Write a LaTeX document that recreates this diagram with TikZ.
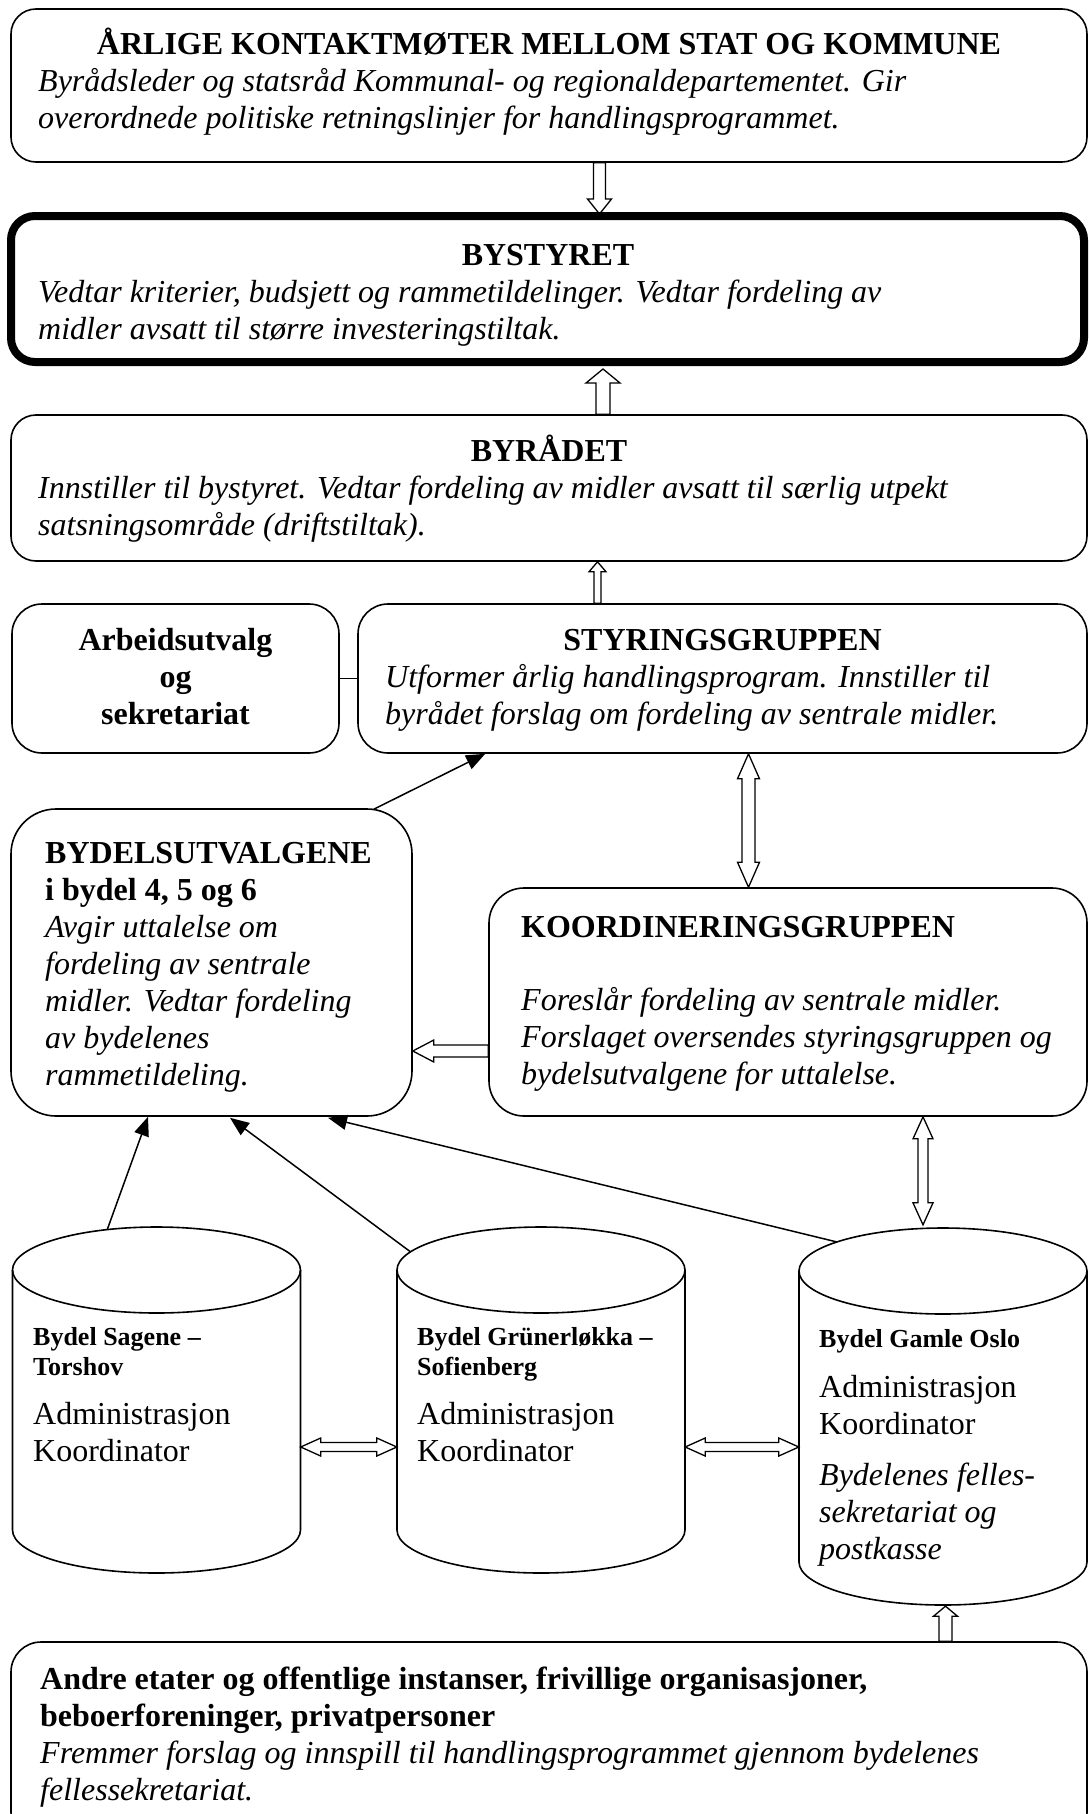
\documentclass[tikz,border=0pt]{standalone}
\usepackage{fontspec}
\setmainfont{Liberation Serif}
\usetikzlibrary{arrows.meta,calc,backgrounds}
\newcommand\fsz{\fontsize{32}{37}\selectfont}
\newcommand\fsm{\fontsize{26}{30}\selectfont}
\tikzset{
 box/.style={draw, line width=1.6pt, rounded corners=25pt, inner sep=0pt},
 txt/.style={inner sep=0pt, anchor=base west, font=\fsz},
 ctxt/.style={inner sep=0pt, anchor=base, font=\fsz},
 hollow/.style={draw, line width=1.3pt, fill=white, line join=miter},
 conn/.style={line width=1.5pt, -{Triangle[length=19pt,width=15pt]}},
 plain/.style={line width=1.5pt},
 cylline/.style={line width=1.6pt},
}
% single hollow block arrow: start, tip, half shaft, half head, head length
\newcommand\harrow[5]{%
 \coordinate (hA) at (#1); \coordinate (hB) at (#2);
 \coordinate (hN) at ($(hB)!#5!(hA)$);
 \draw[hollow] ($(hA)!#3!90:(hB)$) -- ($(hN)!#3!-90:(hA)$) -- ($(hN)!#4!-90:(hA)$) -- (hB)
   -- ($(hN)!#4!90:(hA)$) -- ($(hN)!#3!90:(hA)$) -- ($(hA)!#3!-90:(hB)$) -- cycle;}
% double hollow block arrow
\newcommand\hharrow[5]{%
 \coordinate (hA) at (#1); \coordinate (hB) at (#2);
 \coordinate (hN1) at ($(hA)!#5!(hB)$);
 \coordinate (hN2) at ($(hB)!#5!(hA)$);
 \draw[hollow] (hA) -- ($(hN1)!#4!90:(hB)$) -- ($(hN1)!#3!90:(hB)$) -- ($(hN2)!#3!-90:(hA)$)
   -- ($(hN2)!#4!-90:(hA)$) -- (hB) -- ($(hN2)!#4!90:(hA)$) -- ($(hN2)!#3!90:(hA)$)
   -- ($(hN1)!#3!-90:(hB)$) -- ($(hN1)!#4!-90:(hB)$) -- cycle;}
% cylinder: name, cx, top ellipse centre y, bottom ellipse centre y
\newcommand\cyl[4]{%
 \draw[cylline] (#2-144,#3) -- (#2-144,#4) arc[start angle=180,end angle=360,x radius=144pt,y radius=43pt] -- (#2+144,#3);
 \draw[cylline] (#2,#3) ellipse[x radius=144pt,y radius=43pt];
 \coordinate (#1top) at (#2,#3);
 \node[inner sep=0pt, minimum width=288pt, minimum height=#4-#3+86pt] (#1) at (#2,{(#3+#4)/2}) {};}
\begin{document}
\begin{tikzpicture}[x=1pt,y=-1pt]
\useasboundingbox (0,0) rectangle (1088,1814);

% boxes
\node[box, minimum width=1076pt, minimum height=153pt] (box1) at (549,85.5) {};
\node[box, line width=8pt, rounded corners=24pt, minimum width=1073pt, minimum height=146pt] (bystyret) at (547.5,289) {};
\node[box, minimum width=1076pt, minimum height=146pt] (byradet) at (549,488) {};
\node[box, minimum width=729pt, minimum height=149pt, rounded corners=30pt] (styring) at (722.5,678.5) {};
\node[box, minimum width=327pt, minimum height=149pt, rounded corners=30pt] (arbeid) at (175.5,678.5) {};
\node[box, minimum width=401pt, minimum height=307pt, rounded corners=45pt] (bydels) at (211.5,962.5) {};
\node[box, minimum width=598pt, minimum height=228pt, rounded corners=35pt] (koord) at (788,1002) {};
\node[box, minimum width=1076pt, minimum height=200pt, rounded corners=30pt] (bottom) at (549,1742) {};

% cylinders
\cyl{cyl1}{156.5}{1270}{1530}
\cyl{cyl2}{541}{1270}{1530}
\cyl{cyl3}{943}{1271}{1562}

% texts
\node[ctxt] (t1a) at (549,55) {\bfseries ÅRLIGE KONTAKTMØTER MELLOM STAT OG KOMMUNE};
\node[txt, font=\fsz\itshape] (t1b) at (38,92) {\begin{tabular}[t]{@{}l@{}}Byrådsleder og statsråd Kommunal- og regionaldepartementet. Gir\\overordnede politiske retningslinjer for handlingsprogrammet.\end{tabular}};

\node[ctxt] (t2a) at (548,265) {\bfseries BYSTYRET};
\node[txt, font=\fsz\itshape] (t2b) at (38,302) {\begin{tabular}[t]{@{}l@{}}Vedtar kriterier, budsjett og rammetildelinger. Vedtar fordeling av\\midler avsatt til større investeringstiltak.\end{tabular}};

\node[ctxt] (t3a) at (549,461) {\bfseries BYRÅDET};
\node[txt, font=\fsz\itshape] (t3b) at (38,498) {\begin{tabular}[t]{@{}l@{}}Innstiller til bystyret. Vedtar fordeling av midler avsatt til særlig utpekt\\satsningsområde (driftstiltak).\end{tabular}};

\node[ctxt] (t4a) at (722.5,650) {\bfseries STYRINGSGRUPPEN};
\node[txt, font=\fsz\itshape] (t4b) at (385,687) {\begin{tabular}[t]{@{}l@{}}Utformer årlig handlingsprogram. Innstiller til\\byrådet forslag om fordeling av sentrale midler.\end{tabular}};

\node[ctxt, font=\fsz\bfseries] (t5) at (175.5,650) {\begin{tabular}[t]{@{}c@{}}Arbeidsutvalg\\og\\sekretariat\end{tabular}};

\node[txt] (t6) at (45,863) {\begin{tabular}[t]{@{}l@{}}\bfseries BYDELSUTVALGENE\\\bfseries i bydel 4, 5 og 6\\\itshape Avgir uttalelse om\\\itshape fordeling av sentrale\\\itshape midler. Vedtar fordeling\\\itshape av bydelenes\\\itshape rammetildeling.\end{tabular}};

\node[txt, font=\fsz\bfseries] (t7a) at (521,937) {KOORDINERINGSGRUPPEN};
\node[txt, font=\fsz\itshape] (t7b) at (521,1010) {\begin{tabular}[t]{@{}l@{}}Foreslår fordeling av sentrale midler.\\Forslaget oversendes styringsgruppen og\\bydelsutvalgene for uttalelse.\end{tabular}};

\node[txt, font=\fsm\bfseries] (c1a) at (33,1345) {\begin{tabular}[t]{@{}l@{}}Bydel Sagene –\\Torshov\end{tabular}};
\node[txt] (c1b) at (33,1424) {\begin{tabular}[t]{@{}l@{}}Administrasjon\\Koordinator\end{tabular}};
\node[txt, font=\fsm\bfseries] (c2a) at (417,1345) {\begin{tabular}[t]{@{}l@{}}Bydel Grünerløkka –\\Sofienberg\end{tabular}};
\node[txt] (c2b) at (417,1424) {\begin{tabular}[t]{@{}l@{}}Administrasjon\\Koordinator\end{tabular}};
\node[txt, font=\fsm\bfseries] (c3a) at (819,1347) {Bydel Gamle Oslo};
\node[txt] (c3b) at (819,1397) {\begin{tabular}[t]{@{}l@{}}Administrasjon\\Koordinator\end{tabular}};
\node[txt, font=\fsz\itshape] (c3c) at (819,1485) {\begin{tabular}[t]{@{}l@{}}Bydelenes felles-\\sekretariat og\\postkasse\end{tabular}};

\node[txt] (t8) at (40,1689) {\begin{tabular}[t]{@{}l@{}}\bfseries Andre etater og offentlige instanser, frivillige organisasjoner,\\\bfseries beboerforeninger, privatpersoner\\\itshape Fremmer forslag og innspill til handlingsprogrammet gjennom bydelenes\\\itshape fellessekretariat.\end{tabular}};

% plain connectors
\draw[plain] (arbeid.east) -- (styring.west);
\draw[conn] ($(bydels.north east)+(-39,1)$) -- ($(styring.south west)+(128,0)$);
\draw[conn] ($(cyl1top)+(110:144pt and 43pt)$) -- ($(bydels.south)+(-63.5,0)$);
\draw[conn] ($(cyl2top)+(155:144pt and 43pt)$) -- ($(bydels.south)+(18.5,1)$);
\draw[conn] ($(cyl3top)+(137.5:144pt and 43pt)$) -- ($(bydels.south)+(116.5,1)$);

% hollow block arrows behind the boxes
\begin{scope}[on background layer]
\harrow{$(box1.south)+(50.5,0)$}{$(bystyret.north)+(52,2)$}{6pt}{12pt}{15pt}
\harrow{$(byradet.north)+(54,0)$}{$(bystyret.south)+(55.5,3)$}{7pt}{17pt}{14pt}
\harrow{$(styring.north)+(-125,0)$}{$(byradet.south)+(48.5,0)$}{3.5pt}{8.5pt}{10pt}
\hharrow{$(styring.south)+(26,0)$}{$(koord.north)+(-39.5,0)$}{6.5pt}{11pt}{25pt}
\harrow{$(koord.west)+(0,49)$}{$(bydels.east)+(0,88.5)$}{6pt}{11pt}{21pt}
\hharrow{$(koord.south)+(135,0)$}{$(cyl3.north)+(-20,-3)$}{5pt}{10pt}{22pt}
\hharrow{$(cyl1.east)+(0,47)$}{$(cyl2.west)+(0,47)$}{4.5pt}{9pt}{20pt}
\hharrow{$(cyl2.east)+(0,47)$}{$(cyl3.west)+(0,30.5)$}{4.5pt}{9pt}{20pt}
\harrow{$(bottom.north)+(396.5,0)$}{$(cyl3.south)+(2.5,1)$}{6.5pt}{12pt}{10pt}
\end{scope}
\end{tikzpicture}
\end{document}
